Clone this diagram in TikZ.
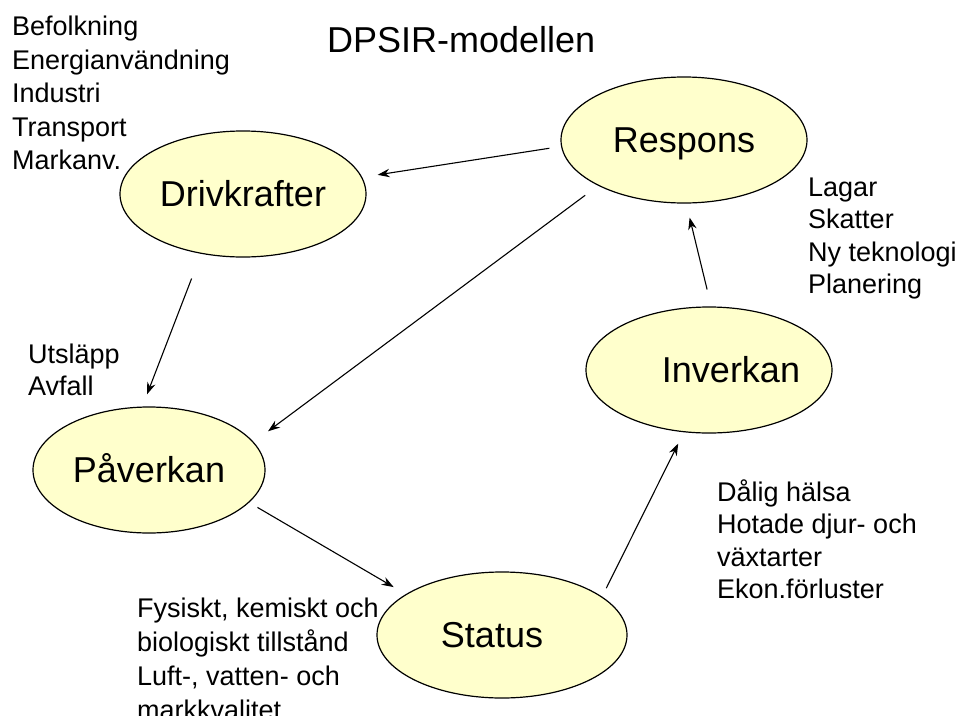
\documentclass[tikz,border=0pt]{standalone}
\usepackage{fontspec}
\setmainfont{Liberation Sans}
\usetikzlibrary{shapes.geometric,arrows.meta}
\definecolor{ellfill}{HTML}{FFFFCC}
\begin{document}
\begin{tikzpicture}[x=1pt,y=-1pt,
  ell/.style={ellipse, draw=black, line width=1.2pt, fill=ellfill,
    minimum width=246pt, minimum height=126pt, inner sep=0pt,
    text height=25.8pt, text depth=0pt, font=\fontsize{36}{40}\selectfont},
  note/.style={anchor=north west, inner sep=0pt, align=left,
    font=\fontsize{27}{32.5}\selectfont},
  arr/.style={line width=1.1pt, -{Stealth[length=12pt,width=8.5pt]}}
]
\useasboundingbox (0,0) rectangle (961,715);

\node[ell] (D) at (243,194) {Drivkrafter};
\node[ell] (R) at (684,140) {Respons};
\node[ell] (I) at (709,370) {\makebox[0pt]{\hspace{44pt}Inverkan}};
\node[ell, minimum width=232pt] (P) at (149,470) {Påverkan};
\node[ell, minimum width=250pt] (S) at (502,635) {\makebox[0pt]{Status\hspace{20pt}}};

\node[anchor=base west, inner sep=0pt, font=\fontsize{36}{40}\selectfont] (T) at (327,52) {DPSIR-modellen};

\node[note, font=\fontsize{27}{33.5}\selectfont] (n1) at (12,16) {Befolkning\\Energianvändning\\Industri\\Transport\\Markanv.};
\node[note] (n2) at (808,177.6) {Lagar\\Skatter\\Ny teknologi\\Planering};
\node[note] (n3) at (28,343.5) {Utsläpp\\Avfall};
\node[note] (n4) at (717,479.5) {Dålig hälsa\\Hotade djur- och\\växtarter\\Ekon.förluster};
\node[note, font=\fontsize{27}{34}\selectfont] (n5) at (137,597.5) {Fysiskt, kemiskt och\\biologiskt tillstånd\\Luft-, vatten- och\\markkvalitet};

\draw[arr, shorten <=11.8pt, shorten >=15.6pt] (R.183.4) -- (D.8.0);
\draw[arr, shorten <=16pt, shorten >=17.9pt] (R.208.1) -- (P.15.3);
\draw[arr, shorten <=26.4pt, shorten >=13pt] (D.235.1) -- (P.96.0);
\draw[arr, shorten <=9.6pt, shorten >=14pt] (P.342.2) -- (S.157.7);
\draw[arr, shorten <=9.4pt, shorten >=12.6pt] (S.21.3) -- (I.248.5);
\draw[arr, shorten <=17.4pt, shorten >=14.4pt] (I.88.2) -- (R.272.5);
\end{tikzpicture}
\end{document}
